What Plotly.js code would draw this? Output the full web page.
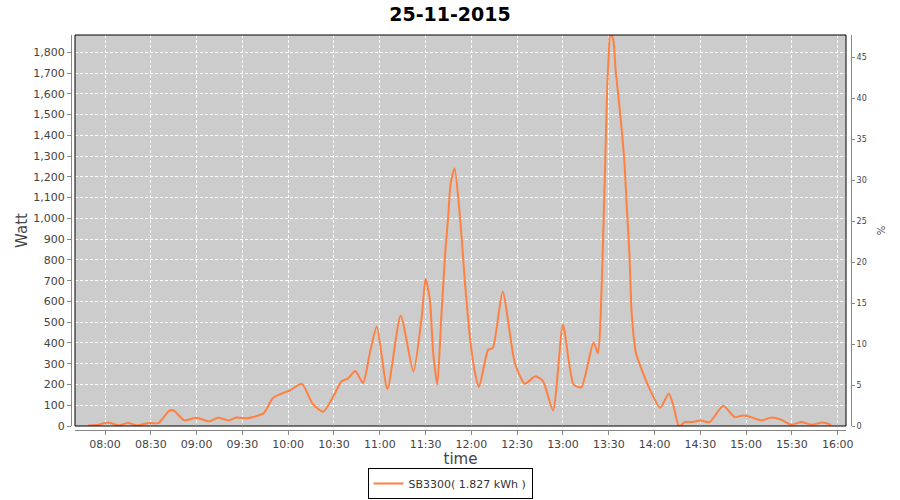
<!DOCTYPE html>
<html>
<head>
<meta charset="utf-8">
<script src="https://cdn.plot.ly/plotly-3.0.1.min.js"></script>
<style>html,body{margin:0;padding:0;background:#fff;}#chart{width:900px;height:500px;}</style>
</head>
<body>
<div id="chart"></div>
<script>
// Data
const day = '2015-11-25';
const times = [
'07:49:00','07:55:00','08:02:00','08:09:00','08:15:00','08:21:00','08:29:00','08:35:00','08:42:00','08:45:00',
'08:52:00','09:00:00','09:08:00','09:14:00','09:21:00','09:26:00','09:33:00','09:37:00','09:44:00','09:50:00',
'09:55:00','10:01:00','10:09:00','10:16:00','10:23:00','10:29:30','10:35:00','10:39:00','10:44:00','10:49:00',
'10:53:30','10:58:00','11:05:00','11:13:40','11:22:00','11:27:30','11:30:00','11:32:50','11:34:50','11:37:40',
'11:40:20','11:43:00','11:44:50','11:46:25','11:49:00','11:52:30','11:55:50','11:59:00','12:02:00','12:05:00',
'12:11:00','12:14:00','12:20:30','12:28:30','12:35:00','12:42:00','12:47:00','12:53:30','13:00:00','13:07:00',
'13:12:00','13:20:00','13:23:00','13:24:40','13:26:20','13:27:50','13:29:00','13:30:00','13:31:00','13:33:00',
'13:34:30','13:37:00','13:40:10','13:41:40','13:43:30','13:45:00','13:47:50','13:50:00','13:57:00','14:03:40',
'14:09:20','14:12:30','14:16:00','14:20:00','14:25:00','14:30:00','14:36:00','14:45:00','14:52:30','14:58:00',
'15:02:00','15:10:00','15:16:40','15:23:00','15:29:40','15:36:00','15:43:00','15:50:00','15:55:30'
];
const watt = [
3,5,17,3,14,3,14,14,73,75,
27,40,22,40,27,41,37,43,62,135,
154,171,203,107,69,142,215,228,265,207,
351,479,178,532,263,527,709,608,367,199,
527,848,1009,1167,1241,1009,688,431,271,188,
367,375,648,303,204,239,215,75,487,199,
186,402,351,527,912,1314,1634,1795,1900,1859,
1715,1538,1282,1073,833,544,351,303,175,88,
157,94,0,19,19,27,18,98,43,51,
46,27,41,30,6,19,6,17,6
];
const seriesName = 'SB3300( 1.827 kWh )';
const chartTitle = '25-11-2015';

const xs = times.map(t => day + ' ' + t);
const tickFont = {family: 'DejaVu Sans, sans-serif', size: 11, color: '#444'};

const traces = [
  {x: xs, y: watt, type: 'scatter', mode: 'lines', name: seriesName,
   line: {color: 'rgb(255,128,64)', width: 2, shape: 'spline', smoothing: 0.6},
   hoverinfo: 'x+y'},
  {x: [], y: [], type: 'scatter', mode: 'lines', yaxis: 'y2', showlegend: false, hoverinfo: 'skip'}
];

const layout = {
  width: 900, height: 500,
  paper_bgcolor: '#ffffff',
  plot_bgcolor: '#cccccc',
  margin: {l: 71, r: 49, t: 35, b: 70, pad: 0, autoexpand: false},
  title: {text: '<b>' + chartTitle + '</b>', font: {family: 'DejaVu Sans, sans-serif', size: 19, color: '#000'},
          x: 0.5, xref: 'container', xanchor: 'center', y: 0.972, yref: 'container', yanchor: 'middle'},
  showlegend: true,
  legend: {orientation: 'h', x: 0.5, xref: 'container', xanchor: 'center', y: 0.002, yref: 'container', yanchor: 'bottom',
           bordercolor: '#000', borderwidth: 1, bgcolor: '#fff', itemwidth: 30,
           font: {family: 'DejaVu Sans, sans-serif', size: 11, color: '#333'}},
  xaxis: {
    type: 'date', domain: [4/780, 1 - 5/780], anchor: 'free', position: 0,
    range: [day + ' 07:40:21', day + ' 16:05:24'],
    tick0: day + ' 08:00:00', dtick: 1800000, tickformat: '%H:%M',
    showgrid: true, gridcolor: '#ffffff', griddash: '3px,2px', gridwidth: 1,
    zeroline: false, showline: true, linecolor: '#888', linewidth: 1,
    ticks: 'outside', ticklen: 4, tickcolor: '#888', tickfont: tickFont, automargin: false,
    title: {text: 'time', font: {family: 'DejaVu Sans, sans-serif', size: 15, color: '#444'}, standoff: 17}
  },
  yaxis: {
    domain: [4/395, 1], anchor: 'free', position: 0,
    range: [0, 1883], tick0: 0, dtick: 100, tickformat: ',',
    showgrid: true, gridcolor: '#ffffff', griddash: '3px,2px', gridwidth: 1,
    zeroline: false, showline: true, linecolor: '#888', linewidth: 1,
    ticks: 'outside', ticklen: 4, tickcolor: '#888', tickfont: tickFont, automargin: false,
    title: {text: 'Watt', font: {family: 'DejaVu Sans, sans-serif', size: 15, color: '#444'}, standoff: 1}
  },
  yaxis2: {
    domain: [4/395, 1], overlaying: 'y', side: 'right', anchor: 'free', position: 1,
    range: [0, 47.7], tick0: 0, dtick: 5,
    showgrid: false, zeroline: false, showline: true, linecolor: '#888', linewidth: 1,
    ticks: 'outside', ticklen: 3, tickcolor: '#888', automargin: false,
    tickfont: {family: 'DejaVu Sans, sans-serif', size: 8, color: '#444'},
    title: {text: '%', font: {family: 'DejaVu Sans, sans-serif', size: 10, color: '#444'}, standoff: 12}
  },
  shapes: [
    {type: 'rect', xref: 'x domain', yref: 'y domain', x0: 0, x1: 1, y0: 0, y1: 1,
     line: {color: '#000', width: 1}, fillcolor: 'rgba(0,0,0,0)', layer: 'above'}
  ]
};

Plotly.newPlot('chart', traces, layout, {displayModeBar: false, staticPlot: true});
</script>
</body>
</html>
